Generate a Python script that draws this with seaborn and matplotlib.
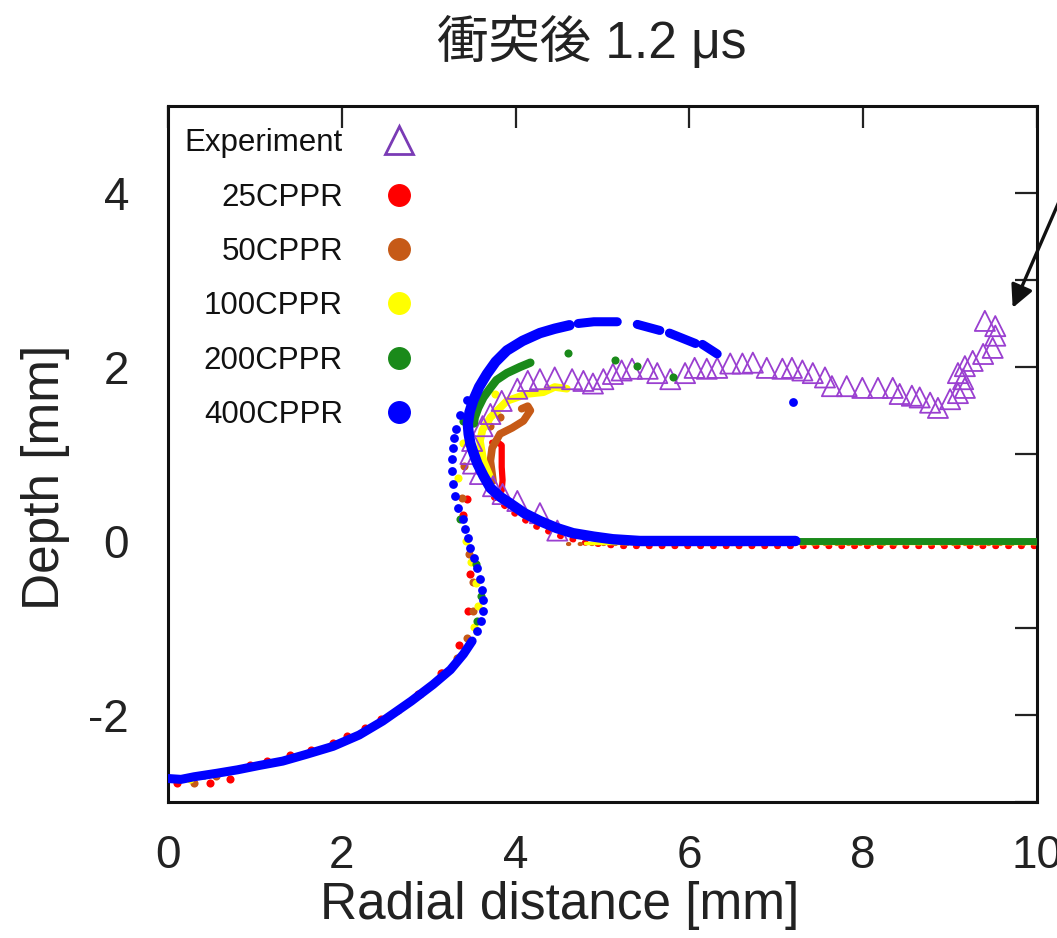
import matplotlib
matplotlib.use("Agg")
import matplotlib.pyplot as plt
import seaborn as sns
from matplotlib.lines import Line2D
from matplotlib.ticker import FixedLocator, FuncFormatter

# ---------------- data ----------------
title_text = "衝突後 1.2 μs"
x_label = "Radial distance [mm]"
y_label = "Depth [mm]"
x_ticks = [0, 2, 4, 6, 8, 10]
y_ticks = [-3, -2, -1, 0, 1, 2, 3, 4]
y_tick_labels = {-2: "-2", 0: "0", 2: "2", 4: "4"}
series_names = ["Experiment", "25CPPR", "50CPPR", "100CPPR", "200CPPR", "400CPPR"]

# Experiment (triangles)
exp_x = [4.48, 4.28, 4.02, 3.85, 3.74, 3.59, 3.51, 3.48, 3.50, 3.62, 3.71, 3.84, 4.02, 4.14,
         4.28, 4.45, 4.65, 4.78, 4.89, 5.01, 5.12, 5.22, 5.34, 5.52, 5.63, 5.78, 5.95, 6.06,
         6.20, 6.32, 6.47, 6.61, 6.73, 6.89, 7.07, 7.18, 7.30, 7.42, 7.56, 7.64, 7.81, 7.99,
         8.17, 8.34, 8.42, 8.56, 8.65, 8.77, 8.86, 9.00, 9.09, 9.17, 9.15, 9.09, 9.17, 9.26,
         9.38, 9.49, 9.52, 9.52, 9.40]
exp_y = [0.12, 0.32, 0.46, 0.54, 0.63, 0.77, 0.89, 1.00, 1.15, 1.32, 1.46, 1.61, 1.75, 1.84,
         1.86, 1.88, 1.86, 1.84, 1.81, 1.86, 1.92, 1.96, 1.98, 1.98, 1.93, 1.86, 1.93, 1.99,
         1.98, 1.99, 2.04, 2.04, 2.05, 1.99, 1.98, 1.99, 1.96, 1.93, 1.88, 1.78, 1.78, 1.76,
         1.76, 1.76, 1.69, 1.67, 1.65, 1.59, 1.53, 1.63, 1.70, 1.76, 1.86, 1.93, 2.01, 2.07,
         2.15, 2.22, 2.36, 2.47, 2.53]

# 25CPPR (red)
red_vert_x = [3.73, 3.80, 3.84, 3.84, 3.84, 3.85, 3.84]
red_vert_y = [1.13, 1.13, 1.10, 0.97, 0.85, 0.70, 0.58]
red_lower_x = [3.75, 3.95, 4.20, 4.50, 4.80, 5.20, 10.0]
red_lower_y = [0.50, 0.34, 0.18, 0.06, -0.02, -0.06, -0.06]
red_pts_x = [0.10, 0.48, 0.71, 0.94, 1.14, 1.40, 1.65, 1.90, 2.06, 2.27, 2.45, 2.65, 2.88, 3.15,
             2.90, 3.14, 3.35, 3.45, 3.48, 3.40, 3.44]
red_pts_y = [-2.78, -2.78, -2.74, -2.57, -2.53, -2.46, -2.40, -2.32, -2.24, -2.15, -2.05, -1.94,
             -1.76, -1.52, -1.76, -1.52, -1.19, -0.80, -0.38, 0.30, 0.48]

# 50CPPR (orange)
orange_hook_x = [3.74, 3.71, 3.73, 3.82, 3.96, 4.09, 4.17, 4.14, 4.07]
orange_hook_y = [0.69, 0.92, 1.07, 1.23, 1.30, 1.38, 1.50, 1.55, 1.52]
orange_flat_x = [4.6, 10.0]
orange_flat_y = [-0.04, -0.04]
orange_pts_x = [3.82, 3.71, 3.41, 3.38, 3.46, 3.51, 3.51, 3.44, 3.33, 0.30, 0.55]
orange_pts_y = [1.42, 1.32, 0.86, 0.49, -0.15, -0.47, -0.81, -1.12, -1.35, -2.78, -2.70]

# 100CPPR (yellow)
yellow_hook_x = [4.59, 4.45, 4.32, 4.13, 3.90, 3.71, 3.62, 3.59, 3.63, 3.70]
yellow_hook_y = [1.75, 1.77, 1.71, 1.69, 1.61, 1.42, 1.28, 1.15, 0.92, 0.75]
yellow_flat_x = [4.8, 10.0]
yellow_flat_y = [-0.025, -0.025]
yellow_pts_x = [3.76, 3.39, 3.34, 3.43, 3.49, 3.54, 3.57, 3.52, 0.25]
yellow_pts_y = [1.69, 1.13, 0.72, 0.00, -0.24, -0.48, -0.75, -0.99, -2.74]

# 200CPPR (green)
green_hook_x = [4.17, 4.05, 3.90, 3.78, 3.71, 3.63, 3.57, 3.53, 3.52]
green_hook_y = [2.05, 2.00, 1.93, 1.85, 1.76, 1.65, 1.53, 1.42, 1.35]
green_flat_x = [5.4, 10.0]
green_flat_y = [0.0, 0.0]
green_pts_x = [4.60, 5.14, 5.40, 5.81, 3.39, 3.36, 3.55, 3.60, 3.56, 0.42]
green_pts_y = [2.16, 2.08, 2.01, 1.88, 1.38, 0.25, -0.27, -0.63, -0.92, -2.69]

# 400CPPR (blue)
blue_bottom_x = [0.00, 0.15, 0.30, 0.56, 0.80, 1.05, 1.32, 1.60, 1.90, 2.20, 2.47, 2.80,
                 3.05, 3.25, 3.40, 3.50]
blue_bottom_y = [-2.73, -2.74, -2.71, -2.67, -2.63, -2.58, -2.53, -2.45, -2.36, -2.23, -2.07,
                 -1.84, -1.65, -1.48, -1.30, -1.15]
blue_s_x = [3.56, 3.60, 3.62, 3.62, 3.61, 3.59, 3.56, 3.52, 3.48, 3.45, 3.42, 3.39, 3.34,
            3.30, 3.28, 3.27, 3.27, 3.28, 3.29, 3.31, 3.36, 3.44, 7.19]
blue_s_y = [-1.04, -0.92, -0.80, -0.68, -0.56, -0.44, -0.31, -0.19, -0.08, 0.03, 0.14, 0.25,
            0.38, 0.52, 0.66, 0.80, 0.94, 1.07, 1.18, 1.29, 1.45, 1.62, 1.60]
blue_hook_x = [4.62, 4.45, 4.28, 4.08, 3.90, 3.77, 3.67, 3.58, 3.51, 3.47, 3.45, 3.46, 3.48,
               3.52, 3.56, 3.63, 3.71, 3.82, 3.94, 4.10, 4.28, 4.47, 4.66, 4.90, 5.12, 5.43, 7.22]
blue_hook_y = [2.48, 2.44, 2.39, 2.30, 2.19, 2.06, 1.92, 1.77, 1.61, 1.48, 1.35, 1.23, 1.12,
               1.00, 0.89, 0.75, 0.61, 0.51, 0.43, 0.32, 0.23, 0.15, 0.09, 0.05, 0.02, 0.00, 0.00]
blue_arc_seg = [1, 1, 1, 2, 2, 3, 3, 4, 4]
blue_arc_x = [4.72, 4.90, 5.17, 5.40, 5.66, 5.77, 6.07, 6.15, 6.32]
blue_arc_y = [2.50, 2.52, 2.52, 2.49, 2.42, 2.39, 2.27, 2.26, 2.15]

# arrow (annotation pointing to the experiment rise)
arrow_tip = (9.72, 2.68)
arrow_tail = (10.96, 5.52)

# ---------------- styling ----------------
C_EXP = "#9a3fd0"
C_RED = "#ff0000"
C_ORANGE = "#c65a17"
C_YELLOW = "#ffff00"
C_GREEN = "#1a8a1a"
C_BLUE = "#0000ff"

sns.set_theme(style="white")
plt.rcParams["font.family"] = ["Liberation Sans", "Noto Sans CJK JP", "DejaVu Sans"]
plt.rcParams["axes.unicode_minus"] = False

fig = plt.figure(figsize=(10.57, 9.38), dpi=100)
ax = fig.add_axes([168 / 1057, 1 - 802 / 938, (1037 - 168) / 1057, (802 - 106) / 938])

def line(x, y, color, lw, z, ls="-"):
    sns.lineplot(x=x, y=y, sort=False, estimator=None, color=color, lw=lw, ls=ls,
                 ax=ax, zorder=z, solid_capstyle="round", dash_capstyle="round")

def dots(x, y, color, s, z):
    sns.scatterplot(x=x, y=y, color=color, s=s, linewidth=0, ax=ax, zorder=z)

# red
line(red_lower_x, red_lower_y, C_RED, 4.2, 2, ls=(0, (0.2, 2.0)))
line(red_vert_x, red_vert_y, C_RED, 4.5, 2.1)
dots(red_pts_x, red_pts_y, C_RED, 34, 2.2)
# orange
line(orange_flat_x, orange_flat_y, C_ORANGE, 3.0, 2.3, ls=(0, (0.3, 2.5)))
line(orange_hook_x, orange_hook_y, C_ORANGE, 5.5, 2.4)
dots(orange_pts_x, orange_pts_y, C_ORANGE, 34, 2.5)
# yellow
line(yellow_flat_x, yellow_flat_y, C_YELLOW, 2.5, 2.6)
line(yellow_hook_x, yellow_hook_y, C_YELLOW, 5.5, 2.7)
dots(yellow_pts_x, yellow_pts_y, C_YELLOW, 34, 2.8)
# experiment
sns.scatterplot(x=exp_x, y=exp_y, marker="^", s=210, facecolor="none", edgecolor=C_EXP,
                linewidth=1.3, ax=ax, zorder=3)
# green
line(green_flat_x, green_flat_y, C_GREEN, 5, 3.1)
line(green_hook_x, green_hook_y, C_GREEN, 6, 3.2)
dots(green_pts_x, green_pts_y, C_GREEN, 34, 3.3)
# blue
line(blue_bottom_x, blue_bottom_y, C_BLUE, 6.5, 4)
line(blue_hook_x, blue_hook_y, C_BLUE, 7.5, 4)
for seg in sorted(set(blue_arc_seg)):
    xs = [x for x, s in zip(blue_arc_x, blue_arc_seg) if s == seg]
    ys = [y for y, s in zip(blue_arc_y, blue_arc_seg) if s == seg]
    line(xs, ys, C_BLUE, 6.5, 4)
dots(blue_s_x, blue_s_y, C_BLUE, 40, 4.1)

# axes
ax.set_xlim(0, 10)
ax.set_ylim(-3, 5)
ax.xaxis.set_major_locator(FixedLocator(x_ticks))
ax.yaxis.set_major_locator(FixedLocator(y_ticks))
ax.yaxis.set_major_formatter(FuncFormatter(lambda v, p: y_tick_labels.get(int(round(v)), "")))
ax.tick_params(direction="in", length=16, width=1.6, color="#222222", top=True, right=True,
               labelsize=33, colors="#222222")
ax.tick_params(axis="x", pad=23)
ax.tick_params(axis="y", pad=28)
for sp in ax.spines.values():
    sp.set_linewidth(2.2)
    sp.set_color("#111111")

ax.set_xlabel(x_label, fontsize=37, color="#222222")
ax.set_ylabel(y_label, fontsize=37, color="#222222")
ax.xaxis.set_label_coords(0.451, -0.148)
ax.xaxis.label.set_va("center")
ax.yaxis.set_label_coords(-0.1415, 0.466)
ax.yaxis.label.set_va("center")

fig.text(592 / 1057, 1 - 42 / 938, title_text, fontsize=37, ha="center", va="center",
         color="#222222")

# arrow
ax.annotate("", xy=arrow_tip, xytext=arrow_tail, annotation_clip=False,
            arrowprops=dict(arrowstyle="-|>", lw=2.4, color="#111111", mutation_scale=34,
                            shrinkA=0, shrinkB=0))

# legend
handles = [Line2D([], [], ls="none", marker="^", ms=20, mfc="none", mec="#7a3bb5", mew=2.0)]
for c in [C_RED, C_ORANGE, C_YELLOW, C_GREEN, C_BLUE]:
    handles.append(Line2D([], [], ls="none", marker="o", ms=15.5, mfc=c, mec=c))
leg = ax.legend(handles, series_names, loc="upper left", bbox_to_anchor=(0.012, 0.977),
                frameon=False, markerfirst=False, fontsize=22.5, labelspacing=0.78,
                handlelength=1.0, handletextpad=1.3, borderpad=0.2, borderaxespad=0)
for t in leg.get_texts():
    t.set_color("#111111")

fig.savefig("out.png", dpi=100)
